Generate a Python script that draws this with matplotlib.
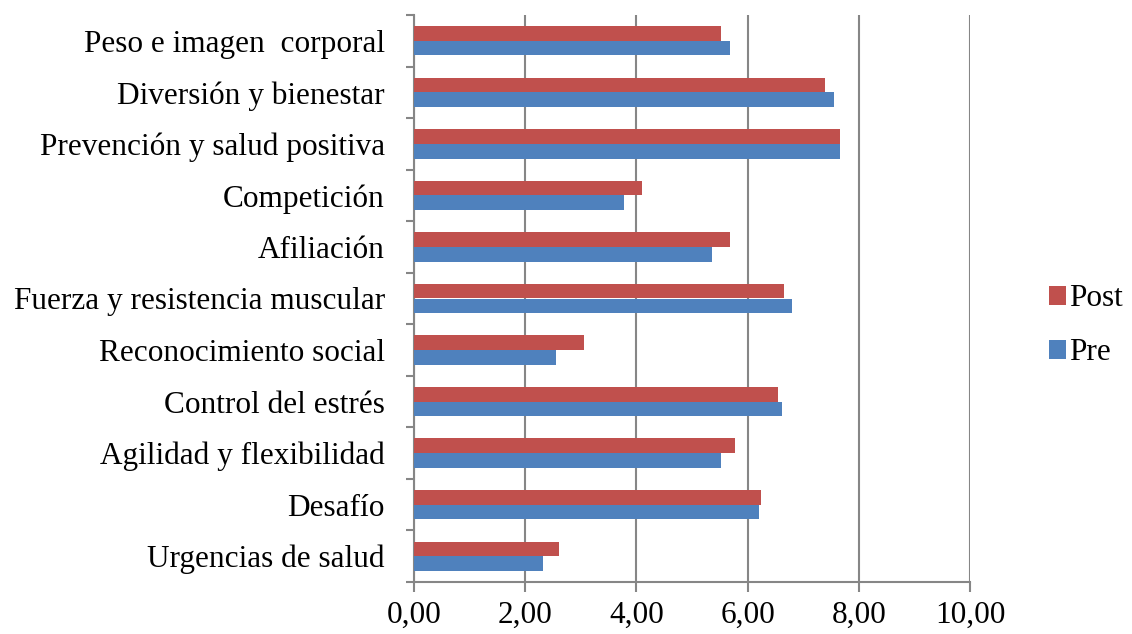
import matplotlib
matplotlib.use("Agg")
import matplotlib.pyplot as plt
import numpy as np

# === Data ===
categorias = [
    "Peso e imagen  corporal",
    "Diversión y bienestar",
    "Prevención y salud positiva",
    "Competición",
    "Afiliación",
    "Fuerza y resistencia muscular",
    "Reconocimiento social",
    "Control del estrés",
    "Agilidad y flexibilidad",
    "Desafío",
    "Urgencias de salud",
]
post = [5.53, 7.40, 7.66, 4.10, 5.69, 6.65, 3.06, 6.55, 5.78, 6.24, 2.61]
pre = [5.69, 7.55, 7.66, 3.78, 5.36, 6.80, 2.56, 6.62, 5.53, 6.21, 2.32]
x_ticks = [0, 2, 4, 6, 8, 10]

ROJO = "#C0504D"
AZUL = "#4F81BD"
GRIS = "#868686"
FS = 22.5

plt.rcParams["font.family"] = ["Liberation Serif", "DejaVu Serif"]

fig = plt.figure(figsize=(11.32, 6.34), dpi=100)
ax = fig.add_axes([414 / 1132, 1 - 582 / 634, (970 - 414) / 1132, (582 - 15) / 634])

n = len(categorias)
y = np.arange(n)[::-1]
h = 2 / 3.5 / 2

ax.barh(y + h / 2, post, height=h, color=ROJO, label="Post", zorder=3)
ax.barh(y - h / 2, pre, height=h, color=AZUL, label="Pre", zorder=3)

ax.set_xlim(0, 10)
ax.set_ylim(-0.5, n - 0.5)

ax.set_xticks(x_ticks)
ax.set_xticklabels([f"{v:.2f}".replace(".", ",") for v in x_ticks], fontsize=FS)
ax.xaxis.grid(True, color=GRIS, linewidth=1.5, zorder=0)

# category boundaries carry the tick marks, centres carry the labels
ax.set_yticks(np.arange(-0.5, n, 1.0))
ax.set_yticklabels([])
ax.set_yticks(y, minor=True)
ax.set_yticklabels(categorias, minor=True, fontsize=FS)
ax.tick_params(axis="y", which="minor", length=0, pad=21)
ax.tick_params(axis="y", which="major", length=6, width=1.5, color=GRIS)
ax.tick_params(axis="x", length=7.5, width=1.5, color=GRIS, pad=6)

for s in ["top", "right"]:
    ax.spines[s].set_visible(False)
for s in ["left", "bottom"]:
    ax.spines[s].set_color(GRIS)
    ax.spines[s].set_linewidth(1.5)

ax.legend(loc="center left", bbox_to_anchor=(1036 / 1132, 1 - 326 / 634),
          bbox_transform=fig.transFigure, frameon=False, fontsize=FS,
          handlelength=0.55, handleheight=0.55, handletextpad=0.12,
          labelspacing=0.8, borderaxespad=0)

fig.savefig("out.png", dpi=100)
